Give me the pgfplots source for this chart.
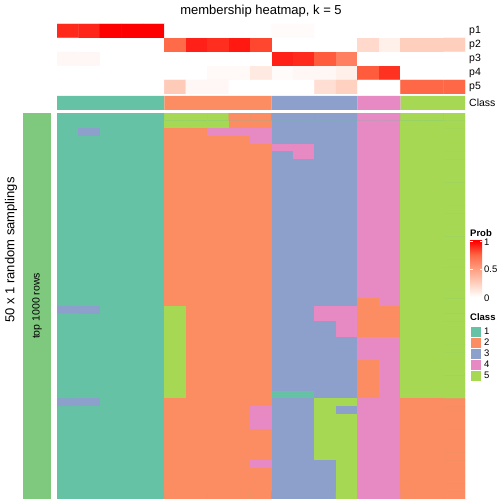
\documentclass[border=0pt]{standalone}
\usepackage{pgfplots}
\pgfplotsset{compat=1.18}
\usepackage{fontspec}
\setmainfont{Liberation Sans}
\definecolor{cA}{RGB}{102,194,165}
\definecolor{cB}{RGB}{252,141,98}
\definecolor{cC}{RGB}{141,160,203}
\definecolor{cD}{RGB}{231,138,195}
\definecolor{cE}{RGB}{166,216,84}
\definecolor{barg}{RGB}{127,201,127}
\pgfdeclareverticalshading{probshade}{100bp}{rgb(0bp)=(1,1,1); rgb(25bp)=(1,1,1); rgb(37.5bp)=(1,0.812,0.745); rgb(50bp)=(1,0.620,0.506); rgb(62.5bp)=(1,0.408,0.275); rgb(75bp)=(1,0,0); rgb(100bp)=(1,0,0)}
\pgfplotsset{
  classmap/.style={colormap={set2}{rgb255=(102,194,165) rgb255=(252,141,98) rgb255=(141,160,203) rgb255=(231,138,195) rgb255=(166,216,84)}, point meta min=1, point meta max=5},
  probmap/.style={colormap={prob}{rgb255(0)=(255,255,255) rgb255(1)=(255,207,190) rgb255(2)=(255,158,129) rgb255(3)=(255,104,70) rgb255(4)=(255,0,0)}, point meta min=0, point meta max=1},
  heat/.style={anchor=north west, scale only axis, width=408pt, xmin=-0.5, xmax=18.5, enlargelimits=false,
    axis line style={draw=none}, xtick=\empty, major tick length=0pt, yticklabel pos=right,
    yticklabel style={font=\fontsize{10.5}{12}\selectfont, anchor=west, inner sep=0pt, xshift=4pt}},
}
\begin{document}
\begin{tikzpicture}
\path[use as bounding box] (0,0) rectangle (504pt,504pt);
% membership heatmap
\begin{axis}[heat, probmap, at={(57pt,480pt)}, height=70pt,
  ymin=0.5, ymax=5.5, y dir=reverse, ytick={1,2,3,4,5}, yticklabels={p1,p2,p3,p4,p5}]
\addplot[matrix plot*, mesh/cols=19, point meta=explicit]
 table[row sep=\\, x expr={\coordindex-19*floor((\coordindex+0.5)/19)}, y expr={floor((\coordindex+0.5)/19)+1}, meta=v] {
v\\
0.90\\0.91\\1\\1\\1\\0\\0\\0\\0\\0\\0.02\\0.02\\0\\0\\0\\0\\0\\0\\0\\
0\\0\\0\\0\\0\\0.74\\0.92\\0.89\\0.94\\0.83\\0\\0\\0\\0\\0.20\\0.08\\0.25\\0.25\\0.25\\
0.04\\0.04\\0\\0\\0\\0\\0\\0\\0\\0\\0.92\\0.90\\0.78\\0.64\\0\\0\\0\\0\\0\\
0\\0\\0\\0\\0\\0\\0\\0.03\\0.03\\0.11\\0.02\\0.04\\0.04\\0.08\\0.78\\0.88\\0\\0\\0\\
0\\0\\0\\0\\0\\0.27\\0.04\\0.04\\0\\0\\0\\0\\0.17\\0.24\\0\\0\\0.75\\0.75\\0.75\\
};
\end{axis}
% class row
\begin{axis}[heat, at={(57pt,408pt)}, height=14pt,
  ymin=0, ymax=1, ytick={0.5}, yticklabels={Class}]
\addplot[ybar, bar width=1, bar shift=0pt, fill=cA, draw=none] coordinates {(0,1) (1,1) (2,1) (3,1) (4,1)};
\addplot[ybar, bar width=1, bar shift=0pt, fill=cB, draw=none] coordinates {(5,1) (6,1) (7,1) (8,1) (9,1)};
\addplot[ybar, bar width=1, bar shift=0pt, fill=cC, draw=none] coordinates {(10,1) (11,1) (12,1) (13,1)};
\addplot[ybar, bar width=1, bar shift=0pt, fill=cD, draw=none] coordinates {(14,1) (15,1)};
\addplot[ybar, bar width=1, bar shift=0pt, fill=cE, draw=none] coordinates {(16,1) (17,1) (18,1)};
\end{axis}
% main heatmap: 50 samplings x 19 columns
\begin{axis}[heat, classmap, at={(57pt,391pt)}, height=386pt,
  ymin=-0.5, ymax=49.5, y dir=reverse, ytick=\empty, axis background/.style={fill=cA}]
\addplot[matrix plot*, mesh/cols=19, point meta=explicit]
 table[row sep=\\, x expr={\coordindex-19*floor((\coordindex+0.5)/19)}, y expr={floor((\coordindex+0.5)/19)}, meta=c] {
c\\
1\\1\\1\\1\\1\\5\\5\\5\\2\\2\\3\\3\\3\\3\\4\\4\\5\\5\\5\\
1\\1\\1\\1\\1\\5\\5\\5\\2\\2\\3\\3\\3\\3\\4\\4\\5\\5\\5\\
1\\3\\1\\1\\1\\2\\2\\4\\4\\4\\3\\3\\3\\3\\4\\4\\5\\5\\5\\
1\\1\\1\\1\\1\\2\\2\\2\\2\\4\\3\\3\\3\\3\\4\\4\\5\\5\\5\\
1\\1\\1\\1\\1\\2\\2\\2\\2\\2\\4\\4\\3\\3\\4\\4\\5\\5\\5\\
1\\1\\1\\1\\1\\2\\2\\2\\2\\2\\3\\4\\3\\3\\4\\4\\5\\5\\5\\
1\\1\\1\\1\\1\\2\\2\\2\\2\\2\\3\\3\\3\\3\\4\\4\\5\\5\\5\\
1\\1\\1\\1\\1\\2\\2\\2\\2\\2\\3\\3\\3\\3\\4\\4\\5\\5\\5\\
1\\1\\1\\1\\1\\2\\2\\2\\2\\2\\3\\3\\3\\3\\4\\4\\5\\5\\5\\
1\\1\\1\\1\\1\\2\\2\\2\\2\\2\\3\\3\\3\\3\\4\\4\\5\\5\\5\\
1\\1\\1\\1\\1\\2\\2\\2\\2\\2\\3\\3\\3\\3\\4\\4\\5\\5\\5\\
1\\1\\1\\1\\1\\2\\2\\2\\2\\2\\3\\3\\3\\3\\4\\4\\5\\5\\5\\
1\\1\\1\\1\\1\\2\\2\\2\\2\\2\\3\\3\\3\\3\\4\\4\\5\\5\\5\\
1\\1\\1\\1\\1\\2\\2\\2\\2\\2\\3\\3\\3\\3\\4\\4\\5\\5\\5\\
1\\1\\1\\1\\1\\2\\2\\2\\2\\2\\3\\3\\3\\3\\4\\4\\5\\5\\5\\
1\\1\\1\\1\\1\\2\\2\\2\\2\\2\\3\\3\\3\\3\\4\\4\\5\\5\\5\\
1\\1\\1\\1\\1\\2\\2\\2\\2\\2\\3\\3\\3\\3\\4\\4\\5\\5\\5\\
1\\1\\1\\1\\1\\2\\2\\2\\2\\2\\3\\3\\3\\3\\4\\4\\5\\5\\5\\
1\\1\\1\\1\\1\\2\\2\\2\\2\\2\\3\\3\\3\\3\\4\\4\\5\\5\\5\\
1\\1\\1\\1\\1\\2\\2\\2\\2\\2\\3\\3\\3\\3\\4\\4\\5\\5\\5\\
1\\1\\1\\1\\1\\2\\2\\2\\2\\2\\3\\3\\3\\3\\4\\4\\5\\5\\5\\
1\\1\\1\\1\\1\\2\\2\\2\\2\\2\\3\\3\\3\\3\\4\\4\\5\\5\\5\\
1\\1\\1\\1\\1\\2\\2\\2\\2\\2\\3\\3\\3\\3\\4\\4\\5\\5\\5\\
1\\1\\1\\1\\1\\2\\2\\2\\2\\2\\3\\3\\3\\3\\4\\4\\5\\5\\5\\
1\\1\\1\\1\\1\\2\\2\\2\\2\\2\\3\\3\\3\\3\\2\\4\\5\\5\\5\\
3\\3\\1\\1\\1\\5\\2\\2\\2\\2\\3\\3\\4\\4\\2\\2\\5\\5\\5\\
1\\1\\1\\1\\1\\5\\2\\2\\2\\2\\3\\3\\4\\4\\2\\2\\5\\5\\5\\
1\\1\\1\\1\\1\\5\\2\\2\\2\\2\\3\\3\\3\\4\\2\\2\\5\\5\\5\\
1\\1\\1\\1\\1\\5\\2\\2\\2\\2\\3\\3\\3\\4\\2\\2\\5\\5\\5\\
1\\1\\1\\1\\1\\5\\2\\2\\2\\2\\3\\3\\3\\3\\4\\4\\5\\5\\5\\
1\\1\\1\\1\\1\\5\\2\\2\\2\\2\\3\\3\\3\\3\\4\\4\\5\\5\\5\\
1\\1\\1\\1\\1\\5\\2\\2\\2\\2\\3\\3\\3\\3\\4\\4\\5\\5\\5\\
1\\1\\1\\1\\1\\5\\2\\2\\2\\2\\3\\3\\3\\3\\2\\4\\5\\5\\5\\
1\\1\\1\\1\\1\\5\\2\\2\\2\\2\\3\\3\\3\\3\\2\\4\\5\\5\\5\\
1\\1\\1\\1\\1\\5\\2\\2\\2\\2\\3\\3\\3\\3\\2\\4\\5\\5\\5\\
1\\1\\1\\1\\1\\5\\2\\2\\2\\2\\3\\3\\3\\3\\2\\4\\5\\5\\5\\
1\\1\\1\\1\\1\\5\\2\\2\\2\\2\\1\\1\\3\\3\\2\\4\\5\\5\\5\\
3\\3\\1\\1\\1\\2\\2\\2\\2\\2\\3\\3\\5\\5\\4\\4\\2\\2\\2\\
1\\1\\1\\1\\1\\2\\2\\2\\2\\4\\3\\3\\5\\3\\4\\4\\2\\2\\2\\
1\\1\\1\\1\\1\\2\\2\\2\\2\\4\\3\\3\\5\\5\\4\\4\\2\\2\\2\\
1\\1\\1\\1\\1\\2\\2\\2\\2\\4\\3\\3\\5\\5\\4\\4\\2\\2\\2\\
1\\1\\1\\1\\1\\2\\2\\2\\2\\2\\3\\3\\5\\5\\4\\4\\2\\2\\2\\
1\\1\\1\\1\\1\\2\\2\\2\\2\\2\\3\\3\\5\\5\\4\\4\\2\\2\\2\\
1\\1\\1\\1\\1\\2\\2\\2\\2\\2\\3\\3\\5\\5\\4\\4\\2\\2\\2\\
1\\1\\1\\1\\1\\2\\2\\2\\2\\2\\3\\3\\5\\5\\4\\4\\2\\2\\2\\
1\\1\\1\\1\\1\\2\\2\\2\\2\\4\\3\\3\\3\\5\\4\\4\\2\\2\\2\\
1\\1\\1\\1\\1\\2\\2\\2\\2\\2\\3\\3\\3\\5\\4\\4\\2\\2\\2\\
1\\1\\1\\1\\1\\2\\2\\2\\2\\2\\3\\3\\3\\5\\4\\4\\2\\2\\2\\
1\\1\\1\\1\\1\\2\\2\\2\\2\\2\\3\\3\\3\\5\\4\\4\\2\\2\\2\\
1\\1\\1\\1\\1\\2\\2\\2\\2\\2\\3\\3\\3\\5\\4\\4\\2\\2\\2\\
};
\end{axis}
% left annotation bar
\begin{axis}[at={(23pt,391pt)}, anchor=north west, scale only axis, width=28pt, height=386pt,
  xmin=0, xmax=1, ymin=0, ymax=1, hide axis, clip=false]
\addplot[fill=barg, draw=none] coordinates {(0,0) (0,1) (1,1) (1,0)};
\node[rotate=90, font=\fontsize{10.5}{12}\selectfont] at (axis cs:0.5,0.5) {top 1000 rows};
\end{axis}
% Prob colour key
\shade[shading=probshade] (470pt,207pt) rectangle (482pt,263pt);
\foreach \yy in {235pt,262.6pt} {
  \draw[white, line width=0.6pt] (470pt,\yy) -- ++(2.5pt,0) (482pt,\yy) -- ++(-2.5pt,0);
}
\node[font=\fontsize{9.5}{11}\selectfont, anchor=west, inner sep=0pt] at (484pt,262pt) {1};
\node[font=\fontsize{9.5}{11}\selectfont, anchor=west, inner sep=0pt] at (484pt,235pt) {0.5};
\node[font=\fontsize{9.5}{11}\selectfont, anchor=west, inner sep=0pt] at (484pt,206pt) {0};
% titles
\node[font=\fontsize{13}{15}\selectfont] at (261pt,492.5pt) {membership heatmap, k = 5};
\node[rotate=90, font=\fontsize{13}{15}\selectfont] at (11pt,254pt) {50 x 1 random samplings};
\node[font=\bfseries\fontsize{9.5}{11}\selectfont, anchor=west, inner sep=0pt] at (470pt,270.5pt) {Prob};
\node[font=\bfseries\fontsize{9.5}{11}\selectfont, anchor=west, inner sep=0pt] at (470pt,186.5pt) {Class};
% class legend keys
\foreach \c/\l [count=\i from 0] in {cA/1,cB/2,cC/3,cD/4,cE/5} {
  \fill[\c, draw=white, line width=0.4pt] (470pt,178pt-\i*11pt) rectangle ++(11pt,-11pt);
  \node[font=\fontsize{9.5}{11}\selectfont, anchor=west, inner sep=0pt] at (484pt,172.5pt-\i*11pt) {\l};
}
\end{tikzpicture}
\end{document}
